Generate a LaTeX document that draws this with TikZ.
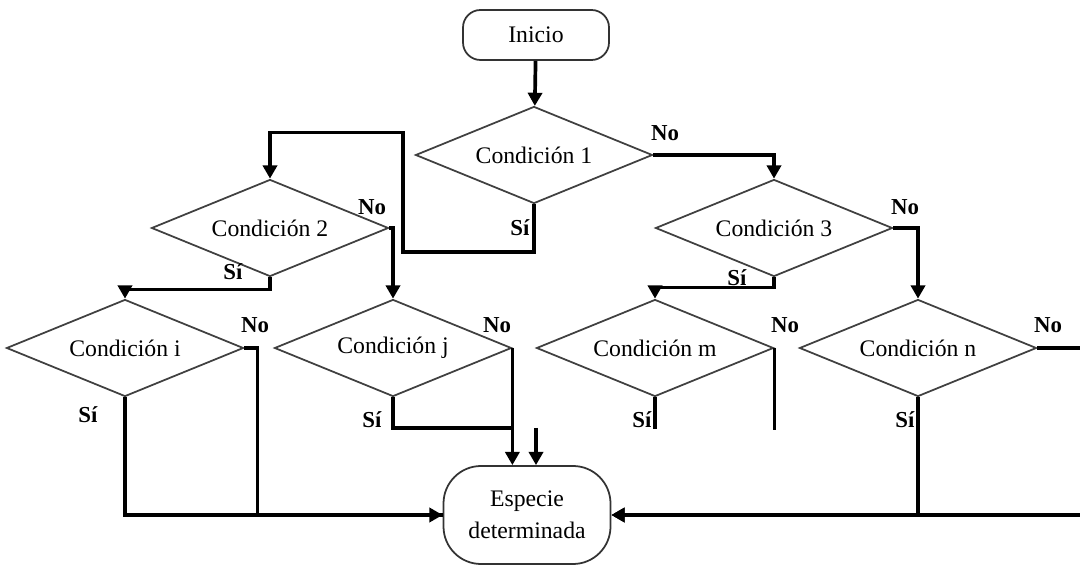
\documentclass[tikz,border=0pt]{standalone}
\usepackage{fontspec}
\setmainfont{Liberation Serif}
\usetikzlibrary{shapes.geometric,arrows.meta}
\begin{document}
\begin{tikzpicture}[
  cond/.style={diamond, draw=black!75, line width=1pt, aspect=2.4, minimum width=4.74cm, minimum height=1.94cm, inner sep=0pt, font=\fontsize{13.5}{16}\selectfont},
  term/.style={draw=black!80, line width=1pt, align=center, font=\fontsize{13.5}{18}\selectfont},
  lnk/.style={line width=2.1pt},
  arr/.style={lnk, -{Triangle[length=7.5pt,width=8pt]}},
  lbl/.style={font=\bfseries\fontsize{13}{15}\selectfont, inner sep=0pt}
]
\useasboundingbox (0,0) rectangle (21.6,-11.3);
\node[term, rounded corners=0.35cm, minimum width=2.92cm, minimum height=1cm] (inicio) at (10.72,-0.7) {Inicio};
\node[term, rounded corners=0.75cm, minimum width=3.34cm, minimum height=1.96cm] (especie) at (10.54,-10.3) {Especie\\determinada};
\node[cond] (c1) at (10.68,-3.1) {Condición 1};
\node[cond] (c2) at (5.40,-4.56) {Condición 2};
\node[cond] (c3) at (15.48,-4.56) {Condición 3};
\node[cond] (ci) at (2.50,-6.96) {Condición i};
\node[cond] (cj) at (7.86,-6.96) {Condición j};
\node[cond] (cm) at (13.10,-6.96) {Condición m};
\node[cond] (cn) at (18.36,-6.96) {Condición n};
\coordinate (stub) at (10.72,-8.56);
\draw[arr] (inicio) -- (c1);
\draw[arr] (c1.south) |- (8.06,-5.04) |- ([yshift=0.92cm]c2.north) -- (c2.north);
\draw[arr] (c1.east) -| (c3.north);
\draw[arr] (c2.south) -- ++(0,-0.24) -| (ci.north);
\draw[arr] (c2.east) -| (cj.north);
\draw[arr] (c3.south) -- ++(0,-0.2) -| (cm.north);
\draw[arr] (c3.east) -| (cn.north);
\draw[arr] (ci.south) |- (especie.west);
\draw[lnk] (ci.east) -- ++(0.26,0) |- (especie.west);
\draw[lnk] (cj.south) |- (cj.east |- stub);
\draw[arr] (cj.east) -- (cj.east |- especie.north);
\draw[arr] (stub) -- (stub |- especie.north);
\draw[lnk] (cm.south) -- ++(0,-0.64);
\draw[lnk] (cm.east) -- ++(0,-1.64);
\draw[arr] (cn.south) |- (especie.east);
\draw[arr] (cn.east) -- (21.7,-6.96) |- (especie.east);
\node[lbl] (no1) at (13.30,-2.66) {No};
\node[lbl] (si1) at (10.40,-4.56) {Sí};
\node[lbl] (no2) at (7.44,-4.14) {No};
\node[lbl] (si2) at (4.66,-5.44) {Sí};
\node[lbl] (no3) at (18.10,-4.14) {No};
\node[lbl] (si3) at (14.74,-5.56) {Sí};
\node[lbl] (noi) at (5.10,-6.50) {No};
\node[lbl] (sii) at (1.76,-8.30) {Sí};
\node[lbl] (noj) at (9.94,-6.50) {No};
\node[lbl] (sij) at (7.44,-8.40) {Sí};
\node[lbl] (nom) at (15.70,-6.50) {No};
\node[lbl] (sim) at (12.84,-8.40) {Sí};
\node[lbl] (non) at (20.96,-6.50) {No};
\node[lbl] (sin) at (18.10,-8.40) {Sí};
\end{tikzpicture}
\end{document}
